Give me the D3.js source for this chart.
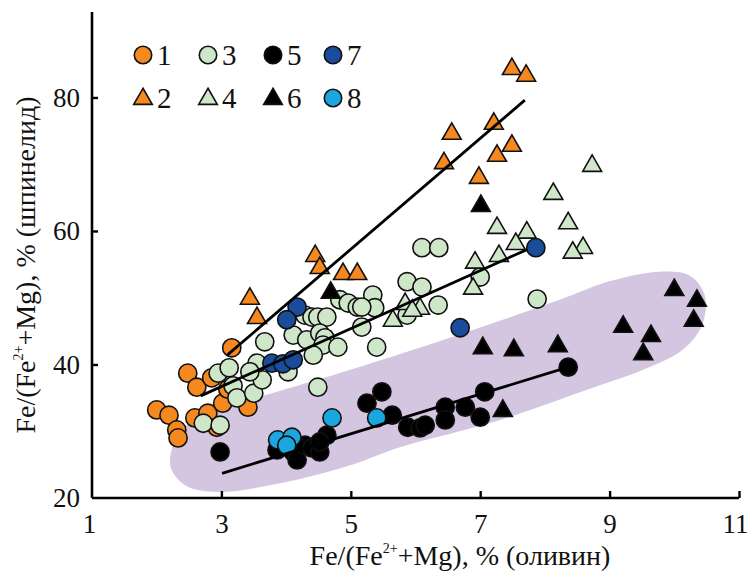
<!DOCTYPE html>
<html><head><meta charset="utf-8">
<script src="https://cdn.jsdelivr.net/npm/d3@7"></script>
<style>body{margin:0;background:#fff}svg{display:block}</style>
</head><body>
<script>
// ---- data ----
const xTicks = [1,3,5,7,9,11];
const yTicks = [20,40,60,80];
const legendLabels = ["1","2","3","4","5","6","7","8"];
const seriesColors = ["#f5891f","#f5891f","#cfe7c9","#cfe7c9","#000000","#000000","#1a4c9c","#1aa7df"];
const seriesShapes = ["circle","triangle","circle","triangle","circle","triangle","circle","circle"];

const s1 = [[2.00,33.2],[2.19,32.4],[2.31,30.2],[2.33,29.0],[2.48,38.7],[2.62,36.6],[2.59,32.0],[2.85,38.0],[2.79,32.7],[3.02,34.2],[2.93,30.6],[3.16,42.5],[3.41,33.6],[3.1,36.3]];
const s2 = [[7.49,84.4],[7.71,83.4],[7.21,76.2],[6.56,74.7],[6.44,70.3],[7.49,72.9],[7.26,71.4],[6.98,68.1],[4.45,56.4],[4.52,54.6],[4.88,53.7],[5.10,53.7],[3.44,50.0],[3.55,47.1]];
const s3 = [[2.72,31.2],[2.98,30.9],[2.95,38.7],[3.12,39.5],[3.18,36.8],[3.24,35.0],[3.50,35.7],[3.63,37.7],[3.55,40.2],[3.67,43.4],[3.44,38.9],[4.03,38.9],[4.11,44.4],[4.29,47.4],[4.40,47.1],[4.49,47.1],[4.63,47.1],[4.32,43.7],[4.52,44.7],[4.60,44.0],[4.57,42.9],[4.42,41.4],[4.80,42.6],[4.49,36.6],[4.83,49.7],[4.96,49.2],[5.10,48.6],[5.17,45.6],[5.34,50.4],[5.37,48.5],[5.40,42.6],[5.87,52.4],[6.10,57.5],[6.36,57.5],[6.10,51.6],[6.35,48.9],[5.87,47.4],[7.00,53.1],[7.88,49.8],[5.17,48.6]];
const s4 = [[8.73,69.9],[8.13,65.7],[8.36,61.3],[7.26,60.6],[7.72,59.9],[7.55,58.2],[7.29,56.4],[8.59,57.6],[8.43,56.9],[6.92,55.4],[6.89,51.5],[6.07,48.5],[5.84,49.2],[5.65,46.7],[5.95,48.2]];
const s5 = [[2.98,26.9],[3.86,27.2],[4.11,26.9],[4.17,25.7],[4.29,27.9],[4.40,27.5],[4.52,26.9],[4.63,29.4],[4.52,28.4],[5.25,34.2],[5.48,35.9],[5.64,32.4],[5.88,30.6],[6.07,30.5],[6.15,30.9],[6.46,33.6],[6.46,31.7],[6.77,33.6],[7.00,32.1],[7.07,35.9],[8.36,39.6]];
const s6 = [[7.01,63.9],[4.69,50.9],[7.04,42.6],[7.52,42.3],[8.20,42.9],[9.21,45.8],[9.64,44.4],[9.52,41.7],[10.0,51.3],[10.35,49.7],[10.30,46.7],[7.35,33.2]];
const s7 = [[4.17,48.6],[4.01,46.7],[3.78,40.2],[3.95,40.1],[4.11,40.7],[7.86,57.5],[6.69,45.5]];
const s8 = [[4.71,32.0],[5.40,32.0],[3.87,28.7],[4.09,29.1],[4.01,27.9]];

const trend1 = [[3.09,41.4],[7.69,79.6]];
const trend3 = [[2.68,35.3],[7.72,57.2]];
const trend5 = [[3.01,23.7],[8.36,39.6]];

const field = [[2.36,29.9],[2.82,32.9],[3.86,35.9],[4.99,39.2],[6.53,44.0],[8.23,49.7],[9.01,52.5],[9.78,53.9],[10.24,53.3],[10.47,50.4],[10.43,45.9],[10.13,42.2],[9.52,39.2],[8.74,36.5],[7.31,31.7],[5.76,27.6],[4.99,24.9],[3.91,22.2],[2.93,20.9],[2.44,21.9],[2.21,24.9]];

const allSeries = [s1,s2,s3,s4,s5,s6,s7,s8];

// ---- chart ----
const W = 749, H = 575;
const svg = d3.select("body").append("svg").attr("width",W).attr("height",H);
const x = d3.scaleLinear().domain([1,11]).range([92,739]);
const y = d3.scaleLinear().domain([20,92.8]).range([498,12]);
const FONT = "'Liberation Serif','Times New Roman',serif";

// field
svg.append("path")
  .attr("d", d3.line().x(d=>x(d[0])).y(d=>y(d[1])).curve(d3.curveCatmullRomClosed.alpha(0.5))(field))
  .attr("fill","#d4c5e1");

// axes
const gx = svg.append("g").attr("transform",`translate(0,${y(20)})`)
  .call(d3.axisBottom(x).tickValues(xTicks).tickSize(-7).tickPadding(16).tickFormat(d3.format("d")));
const gy = svg.append("g").attr("transform",`translate(${x(1)},0)`)
  .call(d3.axisLeft(y).tickValues(yTicks).tickSize(-6).tickPadding(12).tickFormat(d3.format("d")));
[gx,gy].forEach(g=>{
  g.select(".domain").attr("stroke","#000").attr("stroke-width",2.6);
  g.selectAll(".tick line").attr("stroke","#000").attr("stroke-width",2.4);
  g.selectAll(".tick text").attr("font-family",FONT).attr("font-size",27).attr("fill","#111");
});
gx.select(".domain").attr("d",`M${x(1)},0H${x(11)}`);
gy.select(".domain").attr("d",`M0,${y(20)}V${y(92.8)}`);
gx.selectAll(".tick").filter(d=>d===1).select("line").remove();
gy.selectAll(".tick").filter(d=>d===20).select("line").remove();
gx.selectAll(".tick text").attr("dy","0.71em");
gx.selectAll(".tick").filter(d=>d===11).select("text").attr("text-anchor","end").attr("x", 748 - x(11));
gx.selectAll(".tick").filter(d=>d===1).select("text").attr("x", -3);

const sym = (shape, size) => d3.symbol().type(shape==="triangle"?d3.symbolTriangle:d3.symbolCircle).size(size)();

// points
allSeries.forEach((s,i)=>{
  const shape = seriesShapes[i];
  svg.append("g").selectAll("path").data(s).join("path")
    .attr("d", sym(shape, shape==="triangle"?155:260))
    .attr("transform", d=>`translate(${x(d[0])},${y(d[1]) + (shape==="triangle"?1:0)})`)
    .attr("fill", seriesColors[i])
    .attr("stroke","#111").attr("stroke-width",1.6);
});

// trend lines
const ln = d3.line().x(d=>x(d[0])).y(d=>y(d[1]));
[trend1,trend3,trend5].forEach(t=>{
  svg.append("path").attr("d",ln(t)).attr("stroke","#000").attr("stroke-width",2.8).attr("fill","none");
});

// legend
const legCols = [143,208,273,333];
const legRows = [55,98];
legendLabels.forEach((lab,i)=>{
  const col = Math.floor(i/2), row = i%2;
  const shape = seriesShapes[i];
  svg.append("path")
    .attr("d", sym(shape, shape==="triangle"?150:240))
    .attr("transform",`translate(${legCols[col]},${legRows[row] + (shape==="triangle"?1:0)})`)
    .attr("fill",seriesColors[i]).attr("stroke","#111").attr("stroke-width",1.6);
  svg.append("text").attr("x",legCols[col]+14).attr("y",legRows[row]+10)
    .attr("font-family",FONT).attr("font-size",29).attr("fill","#111").text(lab);
});

// axis titles
function title(sel, lastPart){
  sel.append("tspan").text("Fe/(Fe");
  sel.append("tspan").attr("font-size",14).attr("dy",-12).text("2+");
  sel.append("tspan").attr("dy",12).text("+Mg), % (" + lastPart + ")");
}
const xt = svg.append("text").attr("x",460).attr("y",565).attr("text-anchor","middle")
  .attr("font-family",FONT).attr("font-size",28).attr("fill","#111");
title(xt,"оливин");
const yt = svg.append("text").attr("transform","translate(35,265) rotate(-90)").attr("text-anchor","middle")
  .attr("font-family",FONT).attr("font-size",28).attr("fill","#111");
title(yt,"шпинелид");
</script>
</body></html>
